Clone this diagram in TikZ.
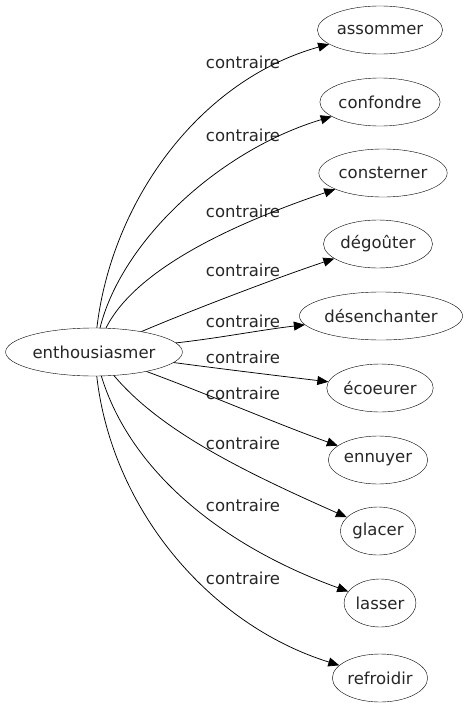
\documentclass[tikz,border=0pt]{standalone}
\usepackage{fontspec}
\setmainfont{DejaVu Sans}
\usetikzlibrary{shapes.geometric,arrows.meta}
\begin{document}
\begin{tikzpicture}[x=1pt,y=-1pt,
  word/.style={draw,ellipse,inner xsep=1pt,inner ysep=2pt,minimum height=48pt,font=\fontsize{16.5}{18}\selectfont,text=black!85},
  lab/.style={font=\fontsize{16.5}{18}\selectfont,text=black!85},
  edge/.style={draw,-{Triangle[length=11pt,width=9pt]},line width=0.75pt}]
\useasboundingbox (0,0) rectangle (469,707);
\node[word] (e) at (94,352) {enthousiasmer};
\node[word] (t1) at (380,30) {assommer};
\node[word] (t2) at (380,102) {confondre};
\node[word] (t3) at (383,173) {consterner};
\node[word] (t4) at (378,244) {dégoûter};
\node[word] (t5) at (381,316) {désenchanter};
\node[word] (t6) at (380,388) {écoeurer};
\node[word] (t7) at (378,460) {ennuyer};
\node[word] (t8) at (378,531) {glacer};
\node[word] (t9) at (380,603) {lasser};
\node[word] (t10) at (380,678) {refroidir};
\node[lab] (l1) at (243,62) {contraire};
\node[lab] (l2) at (243,135) {contraire};
\node[lab] (l3) at (243,211) {contraire};
\node[lab] (l4) at (243,270) {contraire};
\node[lab] (l5) at (243,321) {contraire};
\node[lab] (l6) at (243,357) {contraire};
\node[lab] (l7) at (243,393) {contraire};
\node[lab] (l8) at (243,443) {contraire};
\node[lab] (l9) at (243,505) {contraire};
\node[lab] (l10) at (243,578) {contraire};
\draw[edge] (e) .. controls (112,200) and (200,80) .. (t1);
\draw[edge] (e) .. controls (122,240) and (220,150) .. (t2);
\draw[edge] (e) .. controls (135,270) and (230,225) .. (t3);
\draw[edge] (e) .. controls (180,315) and (270,280) .. (t4);
\draw[edge] (e) .. controls (220,338) and (260,330) .. (t5);
\draw[edge] (e) .. controls (230,370) and (280,376) .. (t6);
\draw[edge] (e) .. controls (210,395) and (280,425) .. (t7);
\draw[edge] (e) .. controls (160,430) and (240,470) .. (t8);
\draw[edge] (e) .. controls (130,470) and (220,545) .. (t9);
\draw[edge] (e) .. controls (112,510) and (210,625) .. (t10);
\end{tikzpicture}
\end{document}
